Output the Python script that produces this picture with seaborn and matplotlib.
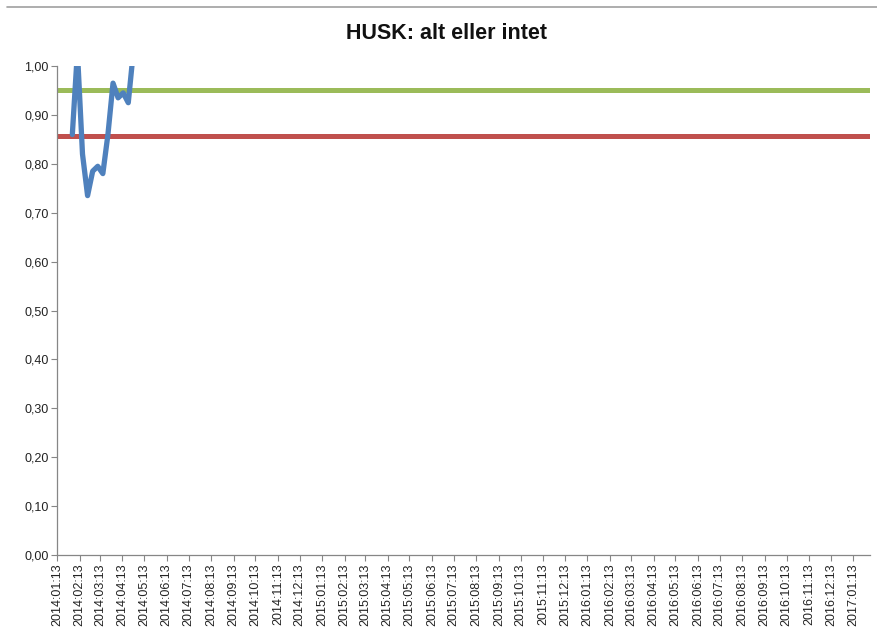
import pandas as pd
import numpy as np
import matplotlib
matplotlib.use("Agg")
import matplotlib.pyplot as plt
import matplotlib.dates as mdates
import seaborn as sns

# weekly values
dates = pd.date_range("2014-02-03", periods=13, freq="7D")
values = [0.86, 1.03, 0.82, 0.735, 0.785, 0.795, 0.78, 0.86, 0.965, 0.935, 0.945, 0.925, 1.03]
target_high = 0.95
target_low = 0.857

axis_start = "2014-01-13"
axis_end = "2017-02-05"
tick_dates = pd.date_range("2014-01-01", "2017-01-01", freq="MS") + pd.Timedelta(days=12)

df = pd.DataFrame({"dato": dates, "verdi": values})

sns.set_style("white")
plt.rcParams["font.family"] = ["Liberation Sans", "DejaVu Sans"]

fig = plt.figure(figsize=(8.78, 6.38), dpi=100)
ax = fig.add_axes([0.065, 0.13, 0.926, 0.7665])

ax.axhline(target_high, color="#9BBB59", lw=3.6, solid_capstyle="round", zorder=2)
ax.axhline(target_low, color="#C0504D", lw=3.6, solid_capstyle="round", zorder=2)
sns.lineplot(data=df, x="dato", y="verdi", ax=ax, color="#4F81BD", lw=3.8, zorder=3)

ax.set_xlim(pd.Timestamp(axis_start), pd.Timestamp(axis_end))
ax.set_ylim(0, 1)
ax.set_yticks(np.arange(0, 1.01, 0.1))
ax.set_yticklabels([f"{v:.2f}".replace(".", ",") for v in np.arange(0, 1.01, 0.1)])
ax.set_xticks(tick_dates)
ax.xaxis.set_major_formatter(mdates.DateFormatter("%Y:%m:%d"))
plt.setp(ax.get_xticklabels(), rotation=90)

ax.tick_params(axis="both", which="major", length=4, width=0.8, color="#868686",
               labelsize=9, labelcolor="#222222", bottom=True, left=True, pad=2)
for s in ["top", "right"]:
    ax.spines[s].set_visible(False)
for s in ["left", "bottom"]:
    ax.spines[s].set_color("#868686")
    ax.spines[s].set_linewidth(0.9)

ax.set_xlabel("")
ax.set_ylabel("")
fig.text(0.508, 0.948, "HUSK: alt eller intet", ha="center", va="center",
         fontsize=15.5, fontweight="bold", color="#111111")

# chart frame top border
fig.add_artist(plt.Line2D([0.008, 1.0], [0.989, 0.989], color="#A0A0A0", lw=1.2))

fig.savefig("out.png", dpi=100)
